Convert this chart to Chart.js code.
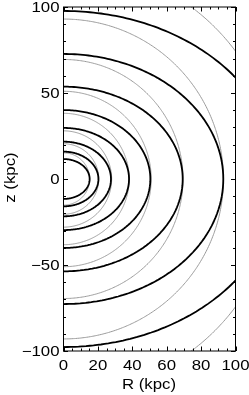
<!DOCTYPE html>
<html><head><meta charset="utf-8">
<script src="https://cdn.jsdelivr.net/npm/chart.js@4/dist/chart.umd.min.js"></script>
<style>html,body{margin:0;padding:0;background:#fff}#wrap{width:249px;height:395px}</style>
</head><body><div id="wrap"><canvas id="c" width="249" height="395"></canvas></div>
<script>
// Flattened potential contours (thick black): intercepts
const contourZIntercepts = [97.7, 72.7, 53.7, 40.1, 29.7, 21.7, 15.9, 11.6];
const contourRIntercepts = [125.5, 92.9, 69.3, 50.5, 38.1, 27.6, 20.3, 15.2];
// Spherical contours (thin grey): radii
const sphericalRadii = [124.6, 93.0, 69.5, 51.0, 38.2, 28.0, 20.5, 15.2];
// Axis ticks
const xTickLabels = [0, 20, 40, 60, 80, 100];
const yTickLabels = [100, 50, 0, -50, -100];
const xMinorTicks = [0,5,10,15,20,25,30,35,40,45,50,55,60,65,70,75,80,85,90,95,100];
const yMinorTicks = [-100,-90,-80,-70,-60,-50,-40,-30,-20,-10,0,10,20,30,40,50,60,70,80,90,100];
const xTitle = 'R (kpc)';
const yTitle = 'z (kpc)';

function outline(rInt, zInt) {
  const pts = [];
  for (let d = -90; d <= 90; d += 2) {
    const t = d * Math.PI / 180;
    pts.push({x: rInt * Math.cos(t), y: zInt * Math.sin(t)});
  }
  return pts;
}

const datasets = [];
contourZIntercepts.forEach((z, i) => {
  datasets.push({data: outline(contourRIntercepts[i], z), borderColor: '#000', borderWidth: 1.8,
    pointRadius: 0, showLine: true, tension: 0.05, order: 0, clip: 0});
});
sphericalRadii.forEach(r => {
  datasets.push({data: outline(r, r), borderColor: '#9a9a9a', borderWidth: 1,
    pointRadius: 0, showLine: true, tension: 0.05, order: 1, clip: 0});
});

const FONT = '14px "Liberation Sans", Arial, sans-serif';
const SX = 1.2; // horizontal stretch seen in the reference lettering
const fmt = v => (v < 0 ? '\u2212' + Math.abs(v) : String(v));

function txt(ctx, s, x, y, align, rot) {
  ctx.save();
  ctx.translate(x, y);
  if (rot) ctx.rotate(rot);
  ctx.scale(SX, 1);
  ctx.textAlign = align;
  ctx.fillText(s, 0, 0);
  ctx.restore();
}

const framePlugin = {
  id: 'frame',
  afterDraw(chart) {
    const {ctx, chartArea: a, scales: {x, y}} = chart;
    ctx.save();
    ctx.strokeStyle = '#000';
    ctx.lineWidth = 1;
    ctx.strokeRect(a.left, a.top, a.right - a.left, a.bottom - a.top);
    ctx.beginPath();
    xMinorTicks.forEach(v => {
      const px = Math.round(x.getPixelForValue(v)) + 0.5;
      const len = xTickLabels.includes(v) ? 4.5 : 2.5;
      ctx.moveTo(px, a.bottom); ctx.lineTo(px, a.bottom - len);
      ctx.moveTo(px, a.top); ctx.lineTo(px, a.top + len);
    });
    yMinorTicks.forEach(v => {
      const py = Math.round(y.getPixelForValue(v)) + 0.5;
      const len = yTickLabels.includes(v) ? 4.5 : 2.5;
      ctx.moveTo(a.left, py); ctx.lineTo(a.left + len, py);
      ctx.moveTo(a.right, py); ctx.lineTo(a.right - len, py);
    });
    ctx.stroke();
    ctx.fillStyle = '#000';
    ctx.font = FONT;
    ctx.textBaseline = 'alphabetic';
    xTickLabels.forEach(v => txt(ctx, fmt(v), x.getPixelForValue(v), 370, 'center'));
    yTickLabels.forEach(v => txt(ctx, fmt(v), 59.5, y.getPixelForValue(v) + 5, 'right'));
    txt(ctx, xTitle, 149, 388.5, 'center');
    txt(ctx, yTitle, 14.5, 177.5, 'center', -Math.PI / 2);
    ctx.restore();
  }
};

new Chart(document.getElementById('c'), {
  type: 'scatter',
  data: {datasets},
  options: {
    responsive: false, animation: false, devicePixelRatio: 1,
    layout: {padding: {top: 7, right: 13.5, left: 0, bottom: 0}},
    plugins: {legend: {display: false}, tooltip: {enabled: false}},
    scales: {
      x: {type: 'linear', min: 0, max: 100, ticks: {display: false}, grid: {display: false, drawTicks: false},
          border: {display: false}, afterFit(s) { s.height = 44; }},
      y: {type: 'linear', min: -100, max: 100, ticks: {display: false}, grid: {display: false, drawTicks: false},
          border: {display: false}, afterFit(s) { s.width = 63.5; }}
    }
  },
  plugins: [framePlugin]
});
</script>
</body></html>
